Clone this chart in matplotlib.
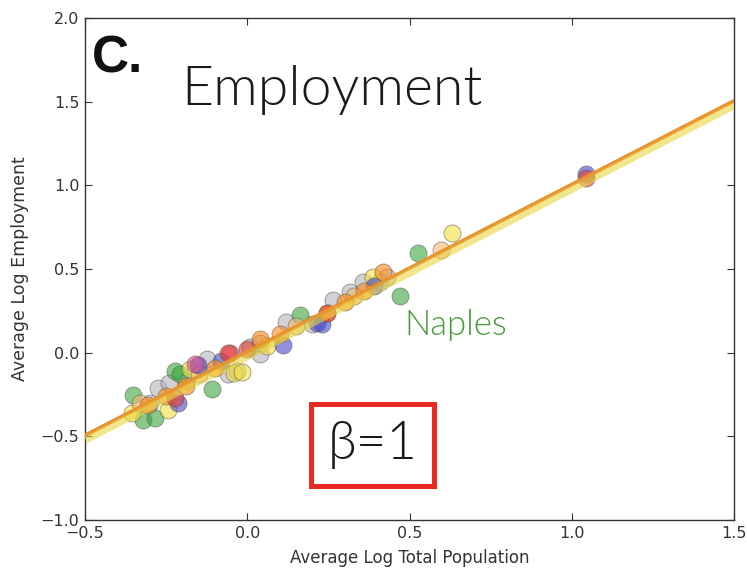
import numpy as np
import matplotlib
matplotlib.use("Agg")
import matplotlib.pyplot as plt

# Average log population (x) vs average log employment (y), one colour per group
green_x = [-0.352, -0.322, -0.285, -0.223, -0.208, -0.109, 0.162, 0.469, 0.525]
green_y = [-0.251, -0.400, -0.390, -0.110, -0.130, -0.220, 0.227, 0.340, 0.598]

gray_x = [-0.300, -0.275, -0.240, -0.190, -0.125, -0.060, -0.032, 0.008, 0.038,
          0.040, 0.120, 0.200, 0.263, 0.315, 0.355, 0.408, 0.430]
gray_y = [-0.300, -0.210, -0.180, -0.170, -0.040, -0.130, -0.110, 0.036, -0.010,
          0.060, 0.185, 0.170, 0.317, 0.360, 0.420, 0.420, 0.450]

yellow_x = [-0.355, -0.245, -0.177, -0.040, -0.017, 0.060, 0.386, 0.632]
yellow_y = [-0.360, -0.340, -0.100, -0.120, -0.114, 0.040, 0.450, 0.717]

peach_x = [-0.330, -0.150, 0.150, 0.330, 0.598]
peach_y = [-0.300, -0.130, 0.160, 0.340, 0.616]

orange_x = [-0.306, -0.250, -0.190, -0.100, 0.040, 0.100, 0.245, 0.300, 0.360, 0.417]
orange_y = [-0.310, -0.260, -0.200, -0.090, 0.080, 0.110, 0.240, 0.300, 0.370, 0.480]

blue_x = [-0.214, -0.152, -0.080, 0.109, 0.214, 0.230, 0.390, 1.045]
blue_y = [-0.300, -0.072, -0.050, 0.048, 0.180, 0.170, 0.400, 1.070]

red_x = [-0.223, -0.060, 0.000, 0.245, 1.045]
red_y = [-0.270, 0.000, 0.020, 0.240, 1.045]

pink_x = [-0.160, -0.054]
pink_y = [-0.070, 0.000]

# Fitted scaling lines (slope beta = 1)
fit_slopes = [1.0, 1.0, 1.0]
fit_intercepts = [-0.015, 0.010, 0.005]
fit_colors = ["#e8d640", "#e04a2a", "#e89a2a"]
fit_widths = [7.0, 1.4, 2.6]
fit_alphas = [0.6, 0.7, 0.85]

x_ticks = [-0.5, 0.0, 0.5, 1.0, 1.5]
y_ticks = [-1.0, -0.5, 0.0, 0.5, 1.0, 1.5, 2.0]

series = [
    (gray_x, gray_y, "#b4b4bc"),
    (green_x, green_y, "#3aa63a"),
    (yellow_x, yellow_y, "#f2e03c"),
    (peach_x, peach_y, "#f4b870"),
    (blue_x, blue_y, "#4646c8"),
    (pink_x, pink_y, "#e0508c"),
    (orange_x, orange_y, "#ff8a14"),
    (red_x, red_y, "#e43a2a"),
]

fig = plt.figure(figsize=(7.47, 5.73), dpi=100)
ax = fig.add_axes([0.1138, 0.0925, 0.8690, 0.8761])

for xs, ys, c in series:
    ax.scatter(xs, ys, s=150, color=c, alpha=0.6, edgecolors="#555555",
               linewidths=0.6, zorder=2)

xline = np.array([-0.5, 1.5])
for m, b, c, w, a in zip(fit_slopes, fit_intercepts, fit_colors, fit_widths, fit_alphas):
    ax.plot(xline, m * xline + b, color=c, lw=w, alpha=a, zorder=3,
            solid_capstyle="butt")

ax.set_xlim(-0.5, 1.5)
ax.set_ylim(-1.0, 2.0)
ax.set_xticks(x_ticks)
ax.set_yticks(y_ticks)
ax.set_xticklabels([f"{t:.1f}".replace("-", "\u2212") for t in x_ticks])
ax.set_yticklabels([f"{t:.1f}".replace("-", "\u2212") for t in y_ticks])
ax.tick_params(direction="in", length=5, width=0.8, top=True, right=True,
               labelsize=11.5, labelcolor="#333333", color="#333333", pad=4)
for sp in ax.spines.values():
    sp.set_linewidth(1.0)
    sp.set_color("#333333")

ax.set_xlabel("Average Log Total Population", fontsize=12, color="#333333",
              labelpad=6)
ax.set_ylabel("Average Log Employment", fontsize=12.5, color="#333333",
              labelpad=8)

ax.text(0.011, 0.892, "C.", transform=ax.transAxes, fontsize=37,
        fontweight="bold", family=["Liberation Sans", "DejaVu Sans"],
        color="#111111", va="baseline", ha="left")
ax.text(0.149, 0.827, "Employment", transform=ax.transAxes, fontsize=40,
        fontweight=300, family=["Lato", "DejaVu Sans"],
        color="#1a1a1a", va="baseline", ha="left")
ax.text(0.485, 0.108, "Naples", fontsize=25, fontweight=300,
        family=["Lato", "DejaVu Sans"], color="#4a9a3c",
        va="baseline", ha="left")
ax.text(0.386, -0.55, "\u03b2=1", fontsize=38, fontweight=300,
        family=["Lato", "DejaVu Sans"], color="#1a1a1a",
        va="center", ha="center",
        bbox=dict(boxstyle="square,pad=0.32", facecolor="white",
                  edgecolor="#e82a20", linewidth=3.6))

fig.savefig("out.png", dpi=100, facecolor="white")
